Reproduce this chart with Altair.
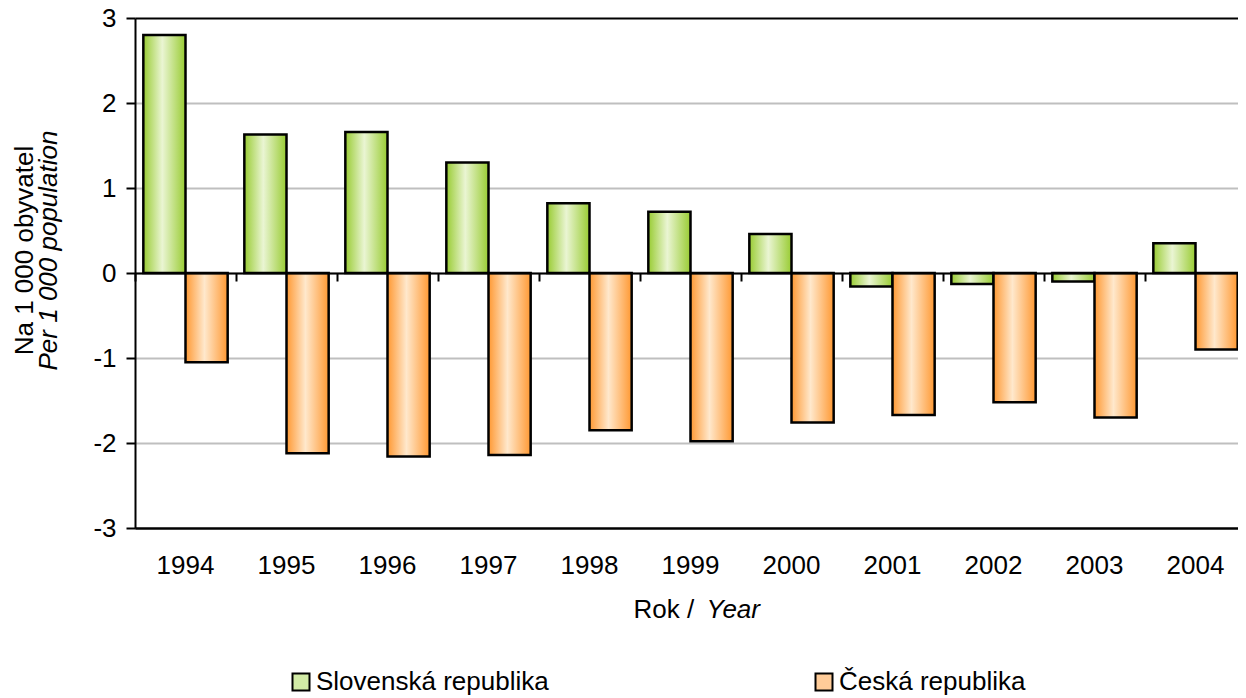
import altair as alt
import pandas as pd

years = ["1994", "1995", "1996", "1997", "1998", "1999", "2000", "2001", "2002", "2003", "2004"]
sk_values = [2.80, 1.63, 1.66, 1.30, 0.82, 0.72, 0.46, -0.16, -0.13, -0.10, 0.35]
cz_values = [-1.05, -2.12, -2.16, -2.14, -1.85, -1.98, -1.76, -1.67, -1.52, -1.70, -0.90]
series_names = ["Slovenská republika", "Česká republika"]
y_ticks = [-3, -2, -1, 0, 1, 2, 3]

df = pd.DataFrame({
    "year": years * 2,
    "series": [series_names[0]] * len(years) + [series_names[1]] * len(years),
    "value": sk_values + cz_values,
})

FONT = "Liberation Sans"
FS = 26
W = 1103          # view width that fits in the window
X_RANGE = 1111    # category band spans the full reference width
STEP = X_RANGE / len(years)
PAD_IN = 0.165

x_scale = alt.Scale(paddingInner=PAD_IN, paddingOuter=PAD_IN / 2, range=[0, X_RANGE])
y_scale = alt.Scale(domain=[-3, 3], nice=False, zero=False)
xo_scale = alt.Scale(domain=series_names, paddingInner=0, paddingOuter=0)


def grad(edge, light):
    return alt.Gradient(
        gradient="linear", x1=0, x2=1, y1=0, y2=0,
        stops=[alt.GradientStop(color=edge, offset=0),
               alt.GradientStop(color=light, offset=0.45),
               alt.GradientStop(color=edge, offset=1)],
    )


base = alt.Chart(df)

green = base.transform_filter(alt.datum.series == series_names[0]).mark_bar(
    fill=grad("#99cc33", "#eaf5d3"), stroke="black", strokeWidth=2.5
).encode(
    x=alt.X("year:N", scale=x_scale, axis=alt.Axis(
        orient="bottom", title="Rok /", titleFont=FONT, titleFontSize=FS,
        titleFontWeight="normal", titleColor="black", titleX=498, titleY=89,
        titleAlign="left", titleBaseline="alphabetic",
        labelFont=FONT, labelFontSize=FS, labelColor="black", labelAngle=0,
        labelPadding=45, labelBaseline="alphabetic",
        ticks=False, tickSize=0, domain=True, domainColor="black", domainWidth=2,
        grid=False)),
    xOffset=alt.XOffset("series:N", scale=xo_scale),
    y=alt.Y("value:Q", scale=y_scale, axis=alt.Axis(
        orient="left", values=y_ticks, labelExpr="'' + datum.value",
        labelFont=FONT, labelFontSize=FS, labelColor="black", labelPadding=10,
        tickColor="black", tickWidth=2, tickSize=9,
        domainColor="black", domainWidth=2,
        grid=True, gridWidth=2,
        gridColor={"condition": {"test": "abs(datum.value) == 3", "value": "black"}, "value": "#bfbfbf"},
        title="Na 1 000 obyvatel", titleFont=FONT, titleFontSize=FS,
        titleFontWeight="normal", titleColor="black", titleAngle=-90,
        titleX=-103, titleY=232, titleAlign="center", titleBaseline="alphabetic")),
)

orange = base.transform_filter(alt.datum.series == series_names[1]).mark_bar(
    fill=grad("#ff9933", "#ffe8cc"), stroke="black", strokeWidth=2.5
).encode(
    x=alt.X("year:N", scale=x_scale, axis=alt.Axis(
        orient="bottom", title=None, labels=False, offset=-255,
        domain=True, domainColor="black", domainWidth=2,
        ticks=True, bandPosition=0, tickOffset=-PAD_IN * STEP / 2,
        tickSize=8, tickWidth=2, tickColor="black",
        grid=False, zindex=1)),
    xOffset=alt.XOffset("series:N", scale=xo_scale),
    y=alt.Y("value:Q", scale=y_scale, axis=alt.Axis(
        orient="left", labels=False, ticks=False, domain=False, grid=False,
        title="Per 1 000 population", titleFont=FONT, titleFontSize=FS,
        titleFontWeight="normal", titleFontStyle="italic", titleColor="black",
        titleAngle=-90, titleX=-79, titleY=232, titleAlign="center",
        titleBaseline="alphabetic")),
)

ghost = base.mark_bar(opacity=0).encode(
    x=alt.X("year:N", scale=x_scale, axis=alt.Axis(
        orient="bottom", title="Year", titleFont=FONT, titleFontSize=FS,
        titleFontWeight="normal", titleFontStyle="italic", titleColor="black",
        titleX=571, titleY=89, titleAlign="left", titleBaseline="alphabetic",
        labels=False, ticks=False, domain=False, grid=False)),
    xOffset=alt.XOffset("series:N", scale=xo_scale),
    y=alt.Y("value:Q", scale=y_scale, axis=None),
    color=alt.Color("series:N", scale=alt.Scale(domain=series_names, range=["#d2eba6", "#ffcc99"]),
                    legend=alt.Legend(
                        title=None, orient="none", legendX=153, legendY=651,
                        direction="horizontal", symbolType="square", symbolSize=289,
                        symbolStrokeColor="black", symbolStrokeWidth=2, symbolOpacity=1,
                        labelFont=FONT, labelFontSize=FS, labelColor="black",
                        labelOffset=2, columnPadding=262, labelLimit=500, padding=0)),
)

chart = alt.layer(green, orange, ghost).resolve_axis(
    x="independent", y="independent"
).properties(
    width=W, height=510,
    padding={"left": 127, "top": 10, "right": 0, "bottom": 170},
    autosize=alt.AutoSizeParams(type="none"),
    background="white",
).configure_view(stroke=None)

chart.save("out.html", embed_options={"renderer": "svg", "actions": False})
